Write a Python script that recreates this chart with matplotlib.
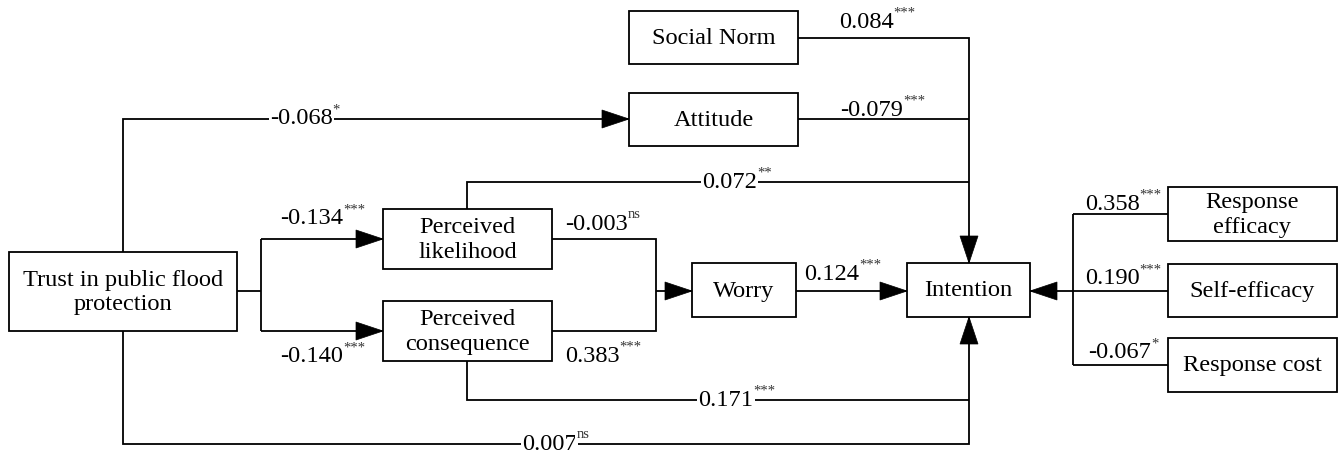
import matplotlib
matplotlib.use("Agg")
import matplotlib.pyplot as plt
from matplotlib.patches import Rectangle, Polygon

# ---------------- data ----------------
node_names = ["Trust in public flood\nprotection", "Social Norm", "Attitude",
              "Perceived\nlikelihood", "Perceived\nconsequence", "Worry", "Intention",
              "Response\nefficacy", "Self-efficacy", "Response cost"]
# path coefficients and significance marks
coef_trust_att, sig_trust_att = "-0.068", "*"
coef_trust_pl, sig_trust_pl = "-0.134", "***"
coef_trust_pc, sig_trust_pc = "-0.140", "***"
coef_pl_wor, sig_pl_wor = "-0.003", "ns"
coef_pc_wor, sig_pc_wor = "0.383", "***"
coef_pl_int, sig_pl_int = "0.072", "**"
coef_sn_int, sig_sn_int = "0.084", "***"
coef_att_int, sig_att_int = "-0.079", "***"
coef_wor_int, sig_wor_int = "0.124", "***"
coef_pc_int, sig_pc_int = "0.171", "***"
coef_trust_int, sig_trust_int = "0.007", "ns"
coef_re_int, sig_re_int = "0.358", "***"
coef_se_int, sig_se_int = "0.190", "***"
coef_rc_int, sig_rc_int = "-0.067", "*"

# ---------------- layout ----------------
W, H = 1340, 457
fig = plt.figure(figsize=(W / 100, H / 100), dpi=100)
ax = fig.add_axes([0, 0, 1, 1])
ax.set_xlim(0, W)
ax.set_ylim(H, 0)
ax.axis("off")

FONT = "Liberation Serif"
FS = 17.6
SFS = 10.5
LW = 1.3

boxes = {  # x0, x1, y0, y1
    "trust": (9, 237, 252, 331),
    "sn": (629, 798, 11, 64),
    "att": (629, 798, 93, 146),
    "pl": (383, 552, 209, 269),
    "pc": (383, 552, 301, 361),
    "wor": (692, 796, 263, 317),
    "int": (907, 1030, 263, 317),
    "re": (1168, 1337, 187, 241),
    "se": (1168, 1337, 264, 317),
    "rc": (1168, 1337, 338, 392),
}
keys = ["trust", "sn", "att", "pl", "pc", "wor", "int", "re", "se", "rc"]
for k, name in zip(keys, node_names):
    x0, x1, y0, y1 = boxes[k]
    ax.add_patch(Rectangle((x0, y0), x1 - x0, y1 - y0, fill=False, ec="black", lw=LW, zorder=3))
    ax.text((x0 + x1) / 2, (y0 + y1) / 2 + 1, name, ha="center", va="center", fontsize=FS,
            family=FONT, linespacing=1.22, zorder=4)


def line(pts):
    xs, ys = zip(*pts)
    ax.plot(xs, ys, color="black", lw=LW, solid_capstyle="butt", solid_joinstyle="miter", zorder=2)


def arrow_head(tip, direction, L=27, Wd=18):
    x, y = tip
    dx, dy = direction
    bx, by = x - dx * L, y - dy * L
    px, py = -dy * Wd / 2, dx * Wd / 2
    ax.add_patch(Polygon([(x, y), (bx + px, by + py), (bx - px, by - py)], closed=True,
                         fc="black", ec="black", lw=0.5, zorder=5))


fig.canvas.draw()
renderer = fig.canvas.get_renderer()


def label(x, y, num, sig, ha="left", bg=False):
    kw = dict(fontsize=FS, family=FONT, va="center", zorder=6)
    if bg:
        kw["bbox"] = dict(boxstyle="square,pad=0.05", fc="white", ec="none")
    t = ax.text(0, 0, num, fontsize=FS, family=FONT)
    wn = t.get_window_extent(renderer).width
    t.remove()
    t2 = ax.text(0, 0, sig, fontsize=SFS, family=FONT)
    ws = t2.get_window_extent(renderer).width
    t2.remove()
    total = wn + ws
    x0 = x - total / 2 if ha == "center" else x
    ax.text(x0, y, num, ha="left", **kw)
    skw = dict(fontsize=SFS, family=FONT, va="center", ha="left", zorder=6, color="#333333")
    if bg:
        skw["bbox"] = dict(boxstyle="square,pad=0.1", fc="white", ec="none")
    ax.text(x0 + wn, y - 9, sig, **skw)


# Trust -> Attitude
line([(123, 252), (123, 119), (629, 119)])
arrow_head((629, 119), (1, 0))
label(305, 119, coef_trust_att, sig_trust_att, ha="center", bg=True)

# Trust -> PL / PC
line([(237, 291), (261, 291)])
line([(261, 239), (261, 331)])
line([(261, 239), (383, 239)])
line([(261, 331), (383, 331)])
arrow_head((383, 239), (1, 0))
arrow_head((383, 331), (1, 0))
label(280, 219, coef_trust_pl, sig_trust_pl)
label(280, 357, coef_trust_pc, sig_trust_pc)

# PL / PC -> Worry
line([(552, 239), (656, 239), (656, 331), (552, 331)])
line([(656, 291), (692, 291)])
arrow_head((692, 291), (1, 0))
label(565, 224, coef_pl_wor, sig_pl_wor)
label(565, 356, coef_pc_wor, sig_pc_wor)

# PL -> Intention (top route)
line([(467, 209), (467, 182), (969, 182)])
label(737, 182, coef_pl_int, sig_pl_int, ha="center", bg=True)

# Social Norm / Attitude -> Intention
line([(798, 38), (969, 38), (969, 263)])
line([(798, 119), (969, 119)])
arrow_head((969, 263), (0, 1))
label(839, 22, coef_sn_int, sig_sn_int)
label(840, 110, coef_att_int, sig_att_int)

# Worry -> Intention
line([(796, 291), (907, 291)])
arrow_head((907, 291), (1, 0))
label(804, 274, coef_wor_int, sig_wor_int)

# PC -> Intention (bottom route) and Trust -> Intention
line([(467, 361), (467, 400), (969, 400)])
line([(123, 331), (123, 444), (969, 444), (969, 317)])
arrow_head((969, 317), (0, -1))
label(737, 400, coef_pc_int, sig_pc_int, ha="center", bg=True)
label(556, 444, coef_trust_int, sig_trust_int, ha="center", bg=True)

# Response efficacy / self-efficacy / response cost -> Intention
line([(1073, 214), (1073, 365)])
line([(1073, 214), (1168, 214)])
line([(1030, 291), (1168, 291)])
line([(1073, 365), (1168, 365)])
arrow_head((1030, 291), (-1, 0))
label(1085, 204, coef_re_int, sig_re_int)
label(1085, 279, coef_se_int, sig_se_int)
label(1088, 353, coef_rc_int, sig_rc_int)

fig.savefig("out.png", dpi=100, facecolor="white")
